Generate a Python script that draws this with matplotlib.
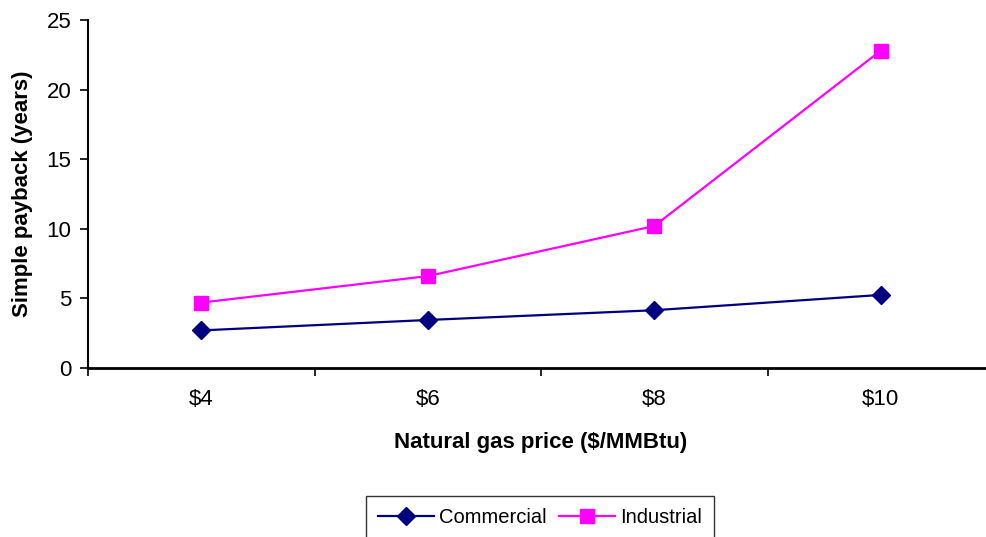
import numpy as np
import matplotlib.pyplot as plt

plt.rcParams['font.family'] = ['Liberation Sans', 'DejaVu Sans']

prices = ['$4', '$6', '$8', '$10']
commercial = [2.7, 3.45, 4.15, 5.25]
industrial = [4.7, 6.6, 10.2, 22.8]

fig = plt.figure(figsize=(9.86, 5.37), dpi=100)
ax = fig.add_axes([88 / 986, 1 - 368 / 537, 906 / 986, 348 / 537])

x = np.arange(len(prices))
ax.plot(x, commercial, color='#000080', marker='D', markersize=9, linewidth=1.6,
        label='Commercial')
ax.plot(x, industrial, color='#FF00FF', marker='s', markersize=9.5, linewidth=1.6,
        label='Industrial')

ax.set_xlim(-0.5, 3.5)
ax.set_ylim(0, 25)
ax.set_yticks([0, 5, 10, 15, 20, 25])

# category boundaries get the tick marks, labels sit between them
ax.set_xticks(np.arange(-0.5, 4, 1))
ax.set_xticklabels([])
ax.set_xticks(x, minor=True)
ax.set_xticklabels(prices, minor=True)
ax.tick_params(axis='x', which='major', direction='out', length=6, width=1.2)
ax.tick_params(axis='x', which='minor', length=0, pad=15, labelsize=16)
ax.tick_params(axis='y', direction='out', length=6, width=1.2, labelsize=16, pad=6)

ax.spines['top'].set_visible(False)
ax.spines['right'].set_visible(False)
ax.spines['bottom'].set_linewidth(2)
ax.spines['left'].set_linewidth(1.5)

ax.set_xlabel('Natural gas price ($/MMBtu)', fontsize=16, fontweight='bold', labelpad=16)
ax.set_ylabel('Simple payback (years)', fontsize=16, fontweight='bold', labelpad=10)

leg = fig.legend(loc='upper center', bbox_to_anchor=(540 / 986, 1 - 496 / 537), ncol=2,
                 fontsize=14.5, frameon=True, fancybox=False, edgecolor='black',
                 handlelength=2.8, handletextpad=0.25, columnspacing=0.6,
                 borderpad=0.6, borderaxespad=0)
leg.get_frame().set_linewidth(1.0)

fig.savefig('out.png', dpi=100)
